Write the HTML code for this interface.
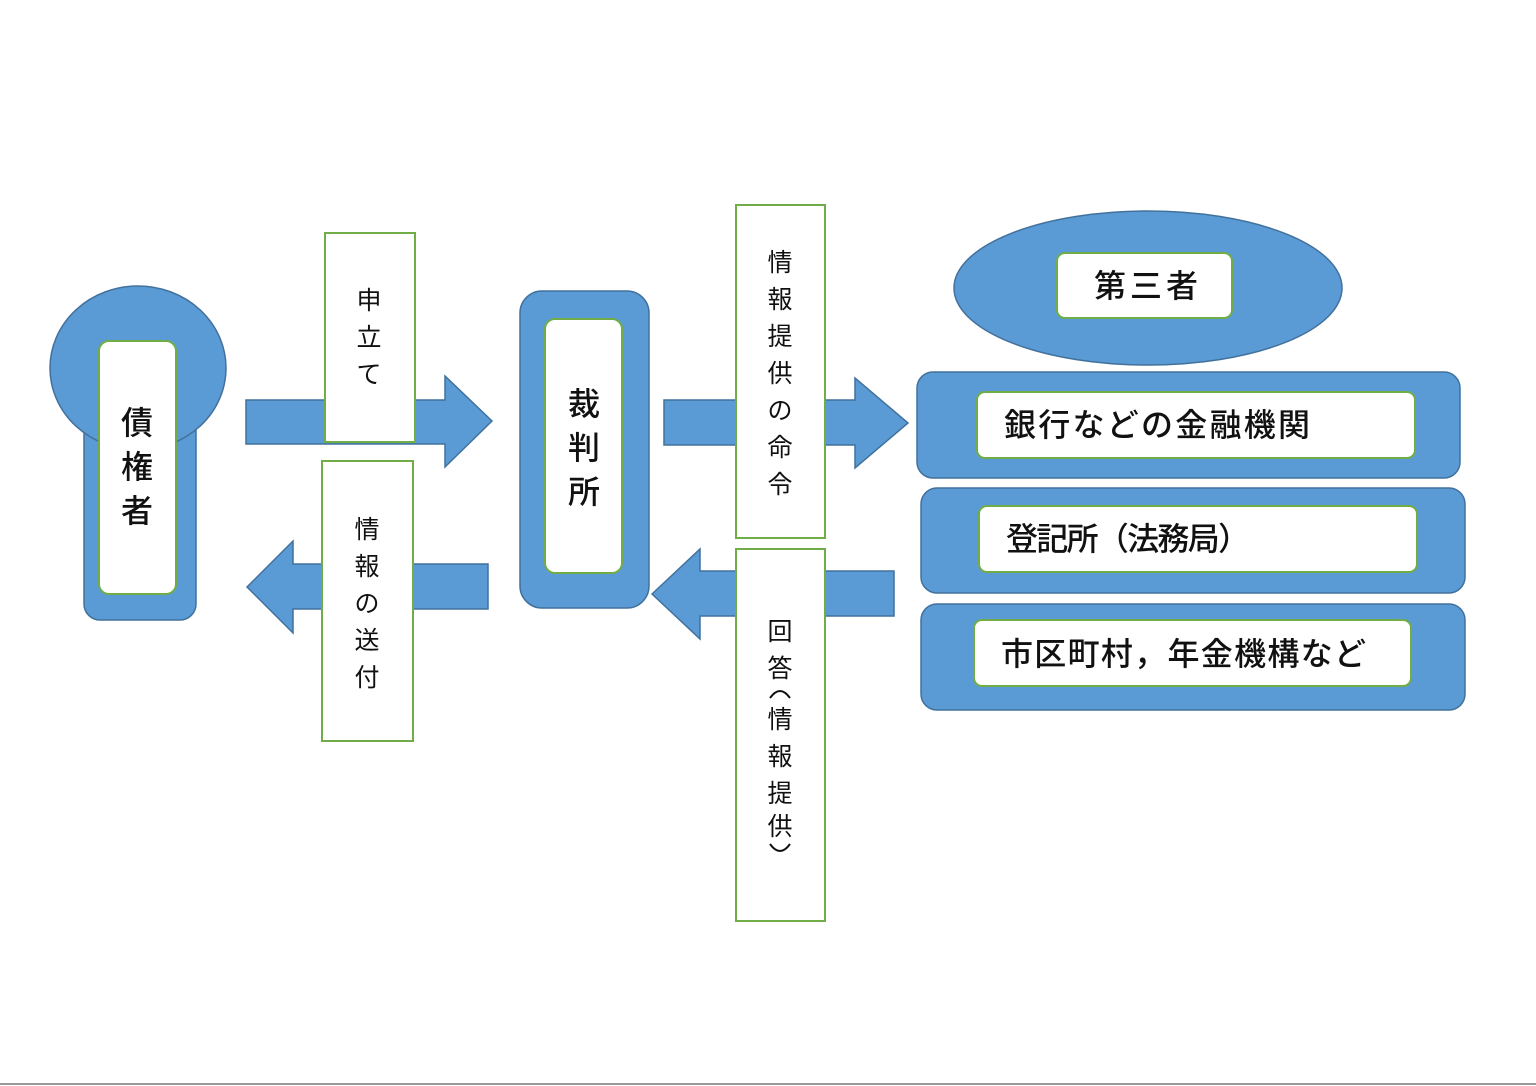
<!DOCTYPE html>
<html><head><meta charset="utf-8"><style>
html,body{margin:0;padding:0;background:#fff}
svg{display:block}
text{font-family:"Liberation Sans","Noto Sans CJK JP",sans-serif;fill:#111}
</style></head><body>
<svg width="1536" height="1086" viewBox="0 0 1536 1086" xmlns="http://www.w3.org/2000/svg">
<g fill="#5b9bd5" stroke="#41719c" stroke-width="1.5">
<rect x="84" y="340" width="112" height="280" rx="16"/>
<ellipse cx="138" cy="368" rx="88" ry="82"/>
<polygon points="246,400 445,400 445,376 492,421 445,467 445,444 246,444"/>
<polygon points="247,587 293,541 293,564 488,564 488,609 293,609 293,633"/>
<rect x="520" y="291" width="129" height="317" rx="22"/>
<polygon points="664,400 855,400 855,378 908,423 855,468 855,445 664,445"/>
<polygon points="652,594 700,549 700,571 894,571 894,616 700,616 700,639"/>
<ellipse cx="1148" cy="288" rx="194" ry="77"/>
<rect x="917" y="372" width="543" height="106" rx="16"/>
<rect x="921" y="488" width="544" height="105" rx="16"/>
<rect x="921" y="604" width="544" height="106" rx="16"/>
</g>
<g fill="#fff" stroke="#70ad47" stroke-width="2">
<rect x="99" y="341" width="77" height="253" rx="10"/>
<rect x="325" y="233" width="90" height="209"/>
<rect x="322" y="461" width="91" height="280"/>
<rect x="545" y="319" width="77" height="254" rx="10"/>
<rect x="736" y="205" width="89" height="333"/>
<rect x="736" y="549" width="89" height="372"/>
<rect x="1057" y="253" width="175" height="65" rx="8"/>
<rect x="977" y="392" width="438" height="66" rx="8"/>
<rect x="979" y="506" width="438" height="66" rx="8"/>
<rect x="974" y="620" width="437" height="66" rx="8"/>
</g>
<g font-size="32" text-anchor="middle" font-weight="500">
<text x="137" y="434">債</text><text x="137" y="478">権</text><text x="137" y="522">者</text>
<text x="584" y="415">裁</text><text x="584" y="459">判</text><text x="584" y="503">所</text>
</g>
<g font-size="25" text-anchor="middle">
<text x="369" y="309">申</text><text x="369" y="346">立</text><text x="369" y="383">て</text>
<text x="367" y="538">情</text><text x="367" y="575">報</text><text x="367" y="612">の</text><text x="367" y="649">送</text><text x="367" y="686">付</text>
<text x="780" y="271">情</text><text x="780" y="308">報</text><text x="780" y="345">提</text><text x="780" y="382">供</text><text x="780" y="419">の</text><text x="780" y="456">命</text><text x="780" y="493">令</text>
<text x="780" y="640">回</text><text x="780" y="677">答</text>
<text x="780" y="728">情</text><text x="780" y="765">報</text><text x="780" y="802">提</text><text x="780" y="835">供</text>
</g>
<g fill="none" stroke="#111" stroke-width="2">
<path d="M770,698 Q780,684 790,698"/>
<path d="M770,844 Q780,858 790,844"/>
</g>
<g font-size="32" font-weight="500">
<text x="1094" y="297" textLength="104">第三者</text>
<text x="1004" y="436" textLength="306">銀行などの金融機関</text>
<text x="1006" y="550" textLength="244">登記所（法務局）</text>
<text x="1001" y="665" textLength="365">市区町村，年金機構など</text>
</g>
<line x1="0" y1="1084" x2="1536" y2="1084" stroke="#999" stroke-width="2"/>
</svg>
</body></html>
